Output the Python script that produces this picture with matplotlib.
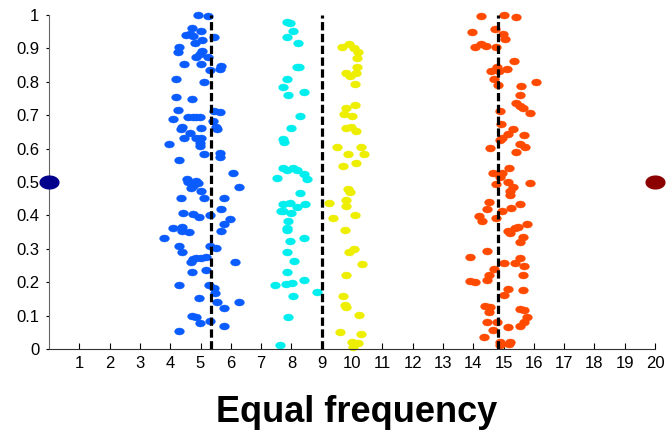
"""Equal frequency discretisation scatter"""

import matplotlib
matplotlib.use('Agg')
import matplotlib.pyplot as plt
import numpy as np
from matplotlib.path import Path

plt.rcParams['font.family'] = ['Liberation Sans', 'DejaVu Sans']

# Cluster 1 (blue)
blue_x = [4.91, 5.24, 4.71, 5.02, 4.53, 4.64, 4.75, 5.46, 4.83, 5.06, 4.29, 4.25, 5.04, 4.97,
          4.84, 5.24, 4.45, 5.02, 5.68, 5.63, 5.30, 4.18, 5.13, 4.20, 4.71, 4.25, 5.46, 5.65,
          4.09, 4.58, 4.75, 4.86, 4.97, 5.41, 4.39, 4.37, 5.51, 5.53, 5.02, 4.64, 4.45, 4.86,
          5.02, 4.97, 4.99, 3.95, 5.13, 5.66, 5.63, 4.29, 6.06, 4.56, 4.86, 4.58, 4.91, 4.75,
          4.69, 5.00, 6.28, 4.34, 5.13, 5.76, 5.68, 4.42, 4.75, 4.94, 5.30, 5.98, 5.79, 5.68,
          4.09, 4.40, 4.38, 4.62, 3.78, 4.29, 4.40, 5.30, 5.51, 4.75, 4.86, 5.02, 5.19, 4.69,
          6.15, 4.71, 5.19, 4.29, 5.27, 5.46, 5.49, 4.94, 5.54, 5.76, 6.26, 4.73, 4.86, 4.99,
          5.30, 5.76, 4.28]
blue_y = [1.000, 0.998, 0.960, 0.953, 0.940, 0.942, 0.937, 0.935, 0.917, 0.924, 0.903, 0.888, 0.893, 0.883,
          0.875, 0.873, 0.852, 0.852, 0.848, 0.838, 0.835, 0.809, 0.798, 0.755, 0.749, 0.716, 0.713, 0.710,
          0.689, 0.695, 0.695, 0.695, 0.695, 0.682, 0.666, 0.660, 0.665, 0.659, 0.662, 0.648, 0.631, 0.632,
          0.632, 0.618, 0.608, 0.613, 0.584, 0.586, 0.576, 0.566, 0.528, 0.508, 0.504, 0.501, 0.496, 0.488,
          0.481, 0.474, 0.486, 0.451, 0.452, 0.451, 0.420, 0.406, 0.404, 0.396, 0.401, 0.389, 0.373, 0.354,
          0.361, 0.366, 0.353, 0.351, 0.332, 0.307, 0.289, 0.308, 0.301, 0.268, 0.271, 0.271, 0.276, 0.261,
          0.261, 0.231, 0.237, 0.193, 0.192, 0.184, 0.168, 0.154, 0.141, 0.124, 0.141, 0.100, 0.095, 0.077,
          0.085, 0.069, 0.055]

# Cluster 2 (cyan)
cyan_x = [7.87, 7.95, 8.04, 7.87, 8.22, 8.17, 8.26, 7.87, 7.73, 7.90, 8.40, 8.29, 7.98, 7.73,
          7.76, 7.73, 7.87, 8.04, 8.20, 8.40, 8.53, 7.51, 8.29, 7.73, 7.95, 8.20, 8.44, 7.65,
          7.73, 7.98, 7.90, 7.87, 7.84, 7.95, 8.40, 7.84, 8.09, 7.87, 8.40, 7.47, 7.82, 8.02,
          8.83, 8.04, 7.90, 7.63]
cyan_y = [0.980, 0.975, 0.952, 0.935, 0.915, 0.843, 0.843, 0.809, 0.783, 0.760, 0.768, 0.698, 0.663, 0.630,
          0.621, 0.541, 0.536, 0.541, 0.536, 0.524, 0.508, 0.511, 0.466, 0.434, 0.436, 0.424, 0.434, 0.412,
          0.412, 0.406, 0.384, 0.363, 0.356, 0.323, 0.331, 0.289, 0.264, 0.231, 0.208, 0.192, 0.194, 0.198,
          0.172, 0.159, 0.097, 0.012]

# Cluster 3 (yellow)
yellow_x = [9.68, 9.90, 10.07, 10.20, 10.15, 10.17, 9.81, 9.92, 10.12, 10.09, 9.81, 9.74, 10.09, 10.01,
            9.79, 9.96, 10.12, 9.52, 10.29, 9.88, 10.39, 9.71, 10.12, 9.88, 9.92, 9.81, 9.79, 9.24,
            10.10, 9.38, 9.76, 9.90, 10.07, 10.32, 9.79, 9.71, 9.76, 9.81, 10.23, 9.61, 10.29, 9.99,
            10.21, 10.03]
yellow_y = [0.905, 0.912, 0.900, 0.890, 0.870, 0.844, 0.825, 0.817, 0.827, 0.792, 0.723, 0.705, 0.732, 0.699,
            0.662, 0.664, 0.654, 0.606, 0.604, 0.584, 0.584, 0.548, 0.556, 0.478, 0.469, 0.446, 0.428, 0.438,
            0.401, 0.391, 0.356, 0.291, 0.299, 0.254, 0.223, 0.159, 0.132, 0.125, 0.102, 0.050, 0.045, 0.022,
            0.019, 0.007]

# Cluster 4 (orange)
orange_x = [14.27, 15.00, 15.42, 13.96, 14.73, 14.98, 15.06, 14.07, 14.25, 14.42, 14.75, 15.35, 14.58, 14.84,
            14.80, 15.13, 14.67, 14.81, 16.07, 15.58, 15.53, 15.42, 15.55, 15.63, 15.88, 14.87, 14.92, 15.31,
            15.16, 14.94, 14.89, 15.69, 15.55, 15.71, 14.56, 15.42, 15.19, 14.65, 14.94, 14.89, 14.76, 15.16,
            15.33, 15.22, 15.22, 15.88, 14.51, 14.45, 14.94, 15.25, 15.55, 14.18, 14.29, 14.75, 15.79, 15.49,
            15.38, 15.14, 15.22, 15.63, 15.53, 14.45, 13.88, 15.00, 15.38, 15.53, 15.69, 14.67, 14.53, 14.45,
            13.90, 14.07, 15.66, 15.14, 15.00, 15.63, 14.38, 14.53, 14.56, 15.53, 15.69, 15.79, 15.69, 15.53,
            14.47, 14.78, 15.16, 14.65, 14.34, 14.89, 15.22, 14.90, 15.18]
orange_y = [0.998, 1.000, 0.995, 0.950, 0.958, 0.942, 0.927, 0.903, 0.913, 0.907, 0.905, 0.863, 0.832, 0.832,
            0.845, 0.838, 0.808, 0.790, 0.800, 0.787, 0.760, 0.737, 0.728, 0.723, 0.708, 0.713, 0.674, 0.659,
            0.644, 0.631, 0.626, 0.642, 0.613, 0.606, 0.603, 0.591, 0.543, 0.526, 0.526, 0.516, 0.494, 0.501,
            0.486, 0.474, 0.461, 0.496, 0.441, 0.418, 0.413, 0.421, 0.433, 0.399, 0.384, 0.391, 0.373, 0.366,
            0.361, 0.354, 0.348, 0.334, 0.321, 0.294, 0.276, 0.256, 0.256, 0.271, 0.250, 0.241, 0.222, 0.207,
            0.204, 0.201, 0.221, 0.181, 0.162, 0.178, 0.129, 0.112, 0.127, 0.119, 0.117, 0.097, 0.082, 0.069,
            0.082, 0.082, 0.065, 0.057, 0.036, 0.022, 0.020, 0.012, 0.014]

# Class centres at both ends and the cut points
end_points_x = [0, 20]
end_points_y = [0.5, 0.5]
cut_points = [5.35, 9.02, 14.82]

x_ticks = list(range(1, 21))
y_ticks = [0, 0.1, 0.2, 0.3, 0.4, 0.5, 0.6, 0.7, 0.8, 0.9, 1]
y_tick_labels = ['0', '0.1', '0.2', '0.3', '0.4', '0.5', '0.6', '0.7', '0.8', '0.9', '1']


def ellipse_marker(ratio):
    """Сплюснутый круг как маркер"""
    t = np.linspace(0, 2 * np.pi, 40)
    verts = np.column_stack([np.cos(t), ratio * np.sin(t)])
    return Path(verts, closed=True)


fig = plt.figure(figsize=(6.67, 4.38), dpi=100)
ax = fig.add_axes([49 / 667, 89 / 438, 606 / 667, 334 / 438])

dot = ellipse_marker(0.72)
for xs, ys, color in ((blue_x, blue_y, '#0a5cff'), (cyan_x, cyan_y, '#00eeee'),
                      (yellow_x, yellow_y, '#eeee00'), (orange_x, orange_y, '#ff4a00')):
    ax.plot(xs, ys, ls='none', marker=dot, ms=7, color=color, mec=color, mew=0.3,
            zorder=2, clip_on=False)

big = ellipse_marker(0.68)
ax.plot(end_points_x[:1], end_points_y[:1], ls='none', marker=big, ms=13.5,
        color='#00008c', zorder=4, clip_on=False)
ax.plot(end_points_x[1:], end_points_y[1:], ls='none', marker=big, ms=13.5,
        color='#8c0000', zorder=4, clip_on=False)

for c in cut_points:
    ax.plot([c, c], [0, 1], color='black', lw=2.3, dashes=(2.6, 1.1), zorder=3)

ax.set_xlim(0, 20)
ax.set_ylim(0, 1)
ax.spines['top'].set_visible(False)
ax.spines['right'].set_visible(False)
ax.spines['left'].set_color('#666666')
ax.spines['bottom'].set_color('#333333')
ax.set_xticks(x_ticks)
ax.set_yticks(y_ticks)
ax.set_yticklabels(y_tick_labels)
ax.tick_params(axis='x', direction='in', length=4, width=0.8, pad=5, labelsize=12, colors='black')
ax.tick_params(axis='y', direction='out', length=2, width=0.8, pad=5, labelsize=12, colors='black')

fig.text(357 / 667, 1 - 413 / 438, 'Equal frequency', ha='center', va='center',
         fontsize=26, fontweight='bold')

fig.savefig('out.png', dpi=100)
